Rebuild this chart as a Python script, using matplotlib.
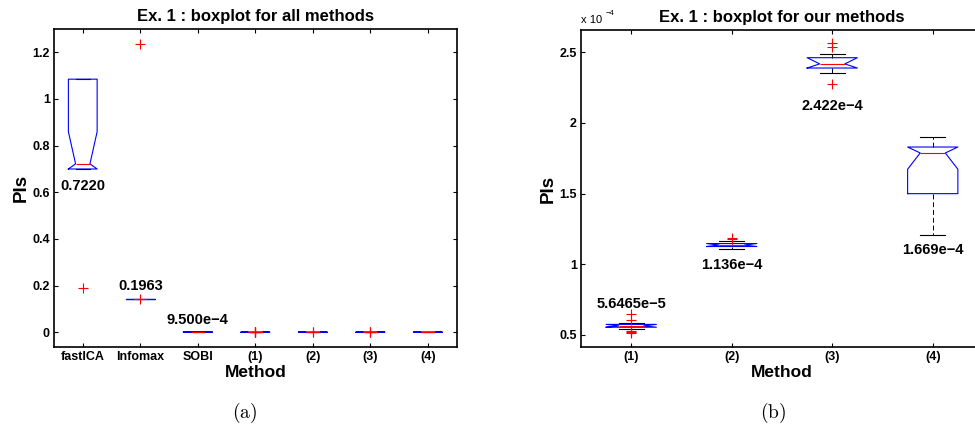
import matplotlib
matplotlib.use("Agg")
import matplotlib.pyplot as plt
from matplotlib.ticker import FuncFormatter, MultipleLocator

plt.rcParams["font.family"] = ["Liberation Sans", "DejaVu Sans"]
plt.rcParams["font.weight"] = "bold"
plt.rcParams["mathtext.fontset"] = "cm"

# ---- data ----
all_methods = ["fastICA", "Infomax", "SOBI", "(1)", "(2)", "(3)", "(4)"]
our_methods = ["(1)", "(2)", "(3)", "(4)"]

# competitor methods (PI values)
comp_med = [0.722, 0.1414, 9.5e-4]
comp_q1 = [0.700, 0.1414, 9.0e-4]
comp_q3 = [1.085, 0.1414, 1.0e-3]
comp_cilo = [0.700, 0.1414, 9.0e-4]
comp_cihi = [0.860, 0.1414, 1.0e-3]
comp_whislo = [0.700, 0.1414, 9.0e-4]
comp_whishi = [1.085, 0.1414, 1.0e-3]
comp_fliers = [[0.19], [1.234, 0.1414], []]
comp_labels = ["0.7220", "0.1963", "9.500e\u22124"]

# our methods (PI values, x 1e-4)
ours_med = [0.565, 1.136, 2.418, 1.788]
ours_q1 = [0.555, 1.126, 2.389, 1.500]
ours_q3 = [0.575, 1.147, 2.462, 1.830]
ours_cilo = [0.555, 1.126, 2.389, 1.673]
ours_cihi = [0.575, 1.147, 2.462, 1.830]
ours_whislo = [0.540, 1.107, 2.356, 1.205]
ours_whishi = [0.587, 1.165, 2.486, 1.901]
ours_fliers = [[0.646, 0.606, 0.527, 0.520, 0.514], [1.189, 1.177],
               [2.564, 2.540, 2.274], []]
ours_labels = ["5.6465e\u22125", "1.136e\u22124", "2.422e\u22124", "1.669e\u22124"]
SCALE = 1e-4

# label offsets from the median, pixels (layout only)
left_label_dy = [-22, 13, 12, 0, 0, 0, 0]
right_label_dy = [22, -20, -42, -97]


def make_stats(med, q1, q3, cilo, cihi, lo, hi, fl, scale=1.0):
    out = []
    for i in range(len(med)):
        out.append(dict(med=med[i] * scale, q1=q1[i] * scale, q3=q3[i] * scale,
                        cilo=cilo[i] * scale, cihi=cihi[i] * scale,
                        whislo=lo[i] * scale, whishi=hi[i] * scale,
                        fliers=[f * scale for f in fl[i]]))
    return out


def draw(ax, stats):
    ax.bxp(stats, positions=range(1, len(stats) + 1), widths=0.5, shownotches=True,
           boxprops=dict(color="#0000ff", lw=0.8, zorder=2.5),
           medianprops=dict(color="#ff0000", lw=0.8, zorder=2.6),
           whiskerprops=dict(color="black", lw=0.7, linestyle=(0, (5, 3))),
           capprops=dict(color="black", lw=0.8),
           flierprops=dict(marker="+", markeredgecolor="#ff0000", markersize=6.5,
                           markeredgewidth=0.8, zorder=2.7))


def style(ax):
    ax.tick_params(direction="in", top=True, right=True, length=3, pad=3, labelsize=9, width=0.8)
    for s in ax.spines.values():
        s.set_linewidth(1.2)
    for lbl in ax.get_xticklabels() + ax.get_yticklabels():
        lbl.set_fontweight("bold")
    ax.set_xlabel("Method", fontsize=12.5, fontweight="bold", labelpad=1)
    ax.set_ylabel("PIs", fontsize=13.5, fontweight="bold", labelpad=2)


fig = plt.figure(figsize=(9.75, 4.3), dpi=100)

# ---- (a) all methods ----
ax1 = fig.add_axes([54 / 975, 83 / 430, 402.7 / 975, 318 / 430])
stats_all = make_stats(comp_med, comp_q1, comp_q3, comp_cilo, comp_cihi,
                       comp_whislo, comp_whishi, comp_fliers)
stats_all += make_stats(ours_med, ours_q1, ours_q3, ours_cilo, ours_cihi,
                        ours_whislo, ours_whishi, ours_fliers, SCALE)
draw(ax1, stats_all)
ax1.set_xlim(0.5, 7.5)
ax1.set_ylim(-0.063, 1.3)
ax1.set_yticks([0, 0.2, 0.4, 0.6, 0.8, 1.0, 1.2])
ax1.yaxis.set_major_formatter(FuncFormatter(lambda v, p: f"{v:g}"))
ax1.set_xticks(range(1, 8))
ax1.set_xticklabels(all_methods)
style(ax1)
ax1.set_title("Ex. 1 : boxplot for all methods", fontsize=12, fontweight="bold", pad=6)
for i, txt in enumerate(comp_labels):
    ax1.annotate(txt, xy=(i + 1, stats_all[i]["med"]), xytext=(0, left_label_dy[i]),
                 textcoords="offset pixels", ha="center", va="center",
                 fontsize=10.5, fontweight="bold")

# ---- (b) our methods ----
ax2 = fig.add_axes([581 / 975, 83 / 430, 402 / 975, 317 / 430])
stats_ours = make_stats(ours_med, ours_q1, ours_q3, ours_cilo, ours_cihi,
                        ours_whislo, ours_whishi, ours_fliers, SCALE)
draw(ax2, stats_ours)
ax2.set_xlim(0.5, 4.5)
ax2.set_ylim(0.415 * SCALE, 2.658 * SCALE)
ax2.yaxis.set_major_locator(MultipleLocator(0.5 * SCALE))
ax2.yaxis.set_major_formatter(FuncFormatter(lambda v, p: f"{round(v / SCALE, 3):g}"))
ax2.set_xticks(range(1, 5))
ax2.set_xticklabels(our_methods)
style(ax2)
ax2.set_title("Ex. 1 : boxplot for our methods", fontsize=12, fontweight="bold", pad=6)
ax2.text(0.0, 1.015, "x 10", transform=ax2.transAxes, ha="left", va="bottom",
         fontsize=8, fontweight="normal")
ax2.text(0.062, 1.04, "\u22124", transform=ax2.transAxes, ha="left", va="bottom",
         fontsize=5.5, fontweight="normal")
for i, txt in enumerate(ours_labels):
    ax2.annotate(txt, xy=(i + 1, stats_ours[i]["med"]), xytext=(0, right_label_dy[i]),
                 textcoords="offset pixels", ha="center", va="center",
                 fontsize=10.5, fontweight="bold")

fig.text(245 / 975, 1 - 413 / 430, r"$\mathrm{(a)}$", ha="center", va="center", fontsize=14)
fig.text(773 / 975, 1 - 413 / 430, r"$\mathrm{(b)}$", ha="center", va="center", fontsize=14)

fig.savefig("out.png", dpi=100)
